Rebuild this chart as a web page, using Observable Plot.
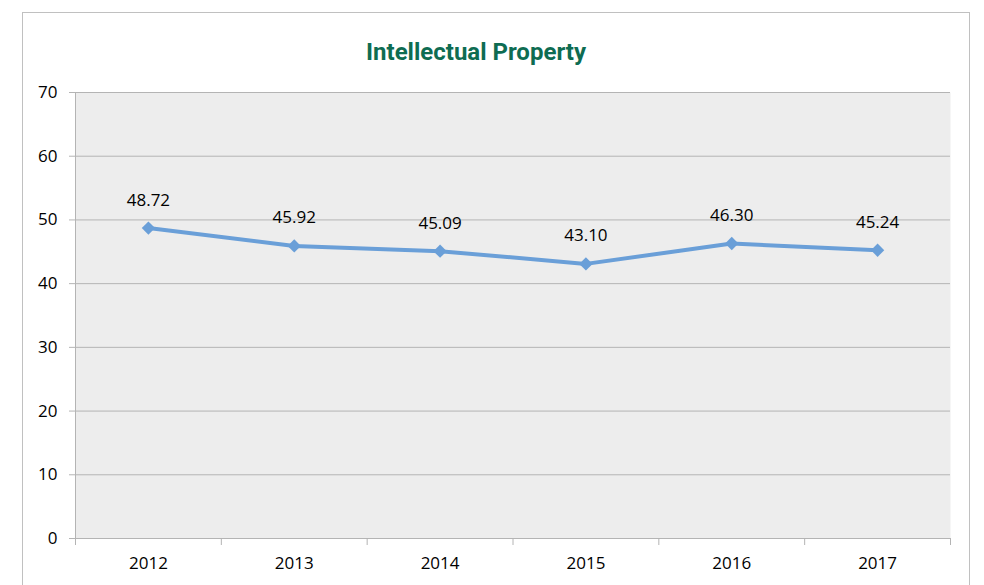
<!DOCTYPE html>
<html><head><meta charset="utf-8">
<script src="https://cdn.jsdelivr.net/npm/d3@7"></script>
<script src="https://cdn.jsdelivr.net/npm/@observablehq/plot@0.6"></script>
<style>
body{margin:0;background:#fff;overflow:hidden;}
#wrap{position:relative;width:984px;height:585px;}
#border{position:absolute;left:22px;top:12px;width:948px;height:600px;border:1.5px solid #c0c0c0;box-sizing:border-box;}
#chart{position:absolute;left:0;top:0;}
</style></head>
<body><div id="wrap"><div id="border"></div><div id="chart"></div></div>
<script>
const years = [2012, 2013, 2014, 2015, 2016, 2017];
const values = [48.72, 45.92, 45.09, 43.10, 46.30, 45.24];
const yTicks = [0, 10, 20, 30, 40, 50, 60, 70];
const title = "Intellectual Property";

const data = years.map((y, i) => ({year: y, value: values[i]}));
const bounds = [...years.map(y => y - 0.5), years[years.length - 1] + 0.5];
const font = "'Open Sans', sans-serif";

const plot = Plot.plot({
  width: 984, height: 585,
  marginLeft: 75, marginRight: 34, marginTop: 92, marginBottom: 47,
  style: {fontFamily: font, fontSize: "17px", color: "#000", background: "transparent"},
  x: {type: "linear", domain: [bounds[0], bounds[bounds.length - 1]]},
  y: {domain: [0, 70]},
  marks: [
    Plot.frame({fill: "#ededed", stroke: null}),
    Plot.gridY(yTicks, {stroke: "#b4b4b4", strokeOpacity: 1, strokeWidth: 1}),
    Plot.ruleX([bounds[0]], {stroke: "#b4b4b4"}),
    Plot.axisY({ticks: yTicks, tickSize: 6, tickPadding: 12, label: null, stroke: "#b4b4b4", fontSize: 17, fill: "#000"}),
    Plot.axisX({ticks: bounds, tickSize: 7, tickFormat: () => "", label: null, stroke: "#b4b4b4"}),
    Plot.axisX({ticks: years, tickSize: 0, tickPadding: 18, tickFormat: d => String(d), label: null, fontSize: 17, fill: "#000"}),
    Plot.line(data, {x: "year", y: "value", stroke: "#6a9fd8", strokeWidth: 4}),
    Plot.dot(data, {x: "year", y: "value", symbol: "diamond2", r: 6, fill: "#6a9fd8", stroke: null}),
    Plot.text(data, {x: "year", y: "value", text: d => d.value.toFixed(2), dy: -28, fontSize: 17, fill: "#000"}),
    Plot.text([title], {frameAnchor: "top", dx: -37, dy: -50, fontSize: 24, fontWeight: "bold", fill: "#0e6c52", fontFamily: "Roboto, sans-serif"})
  ]
});
document.getElementById("chart").appendChild(plot);
</script>
</body></html>
